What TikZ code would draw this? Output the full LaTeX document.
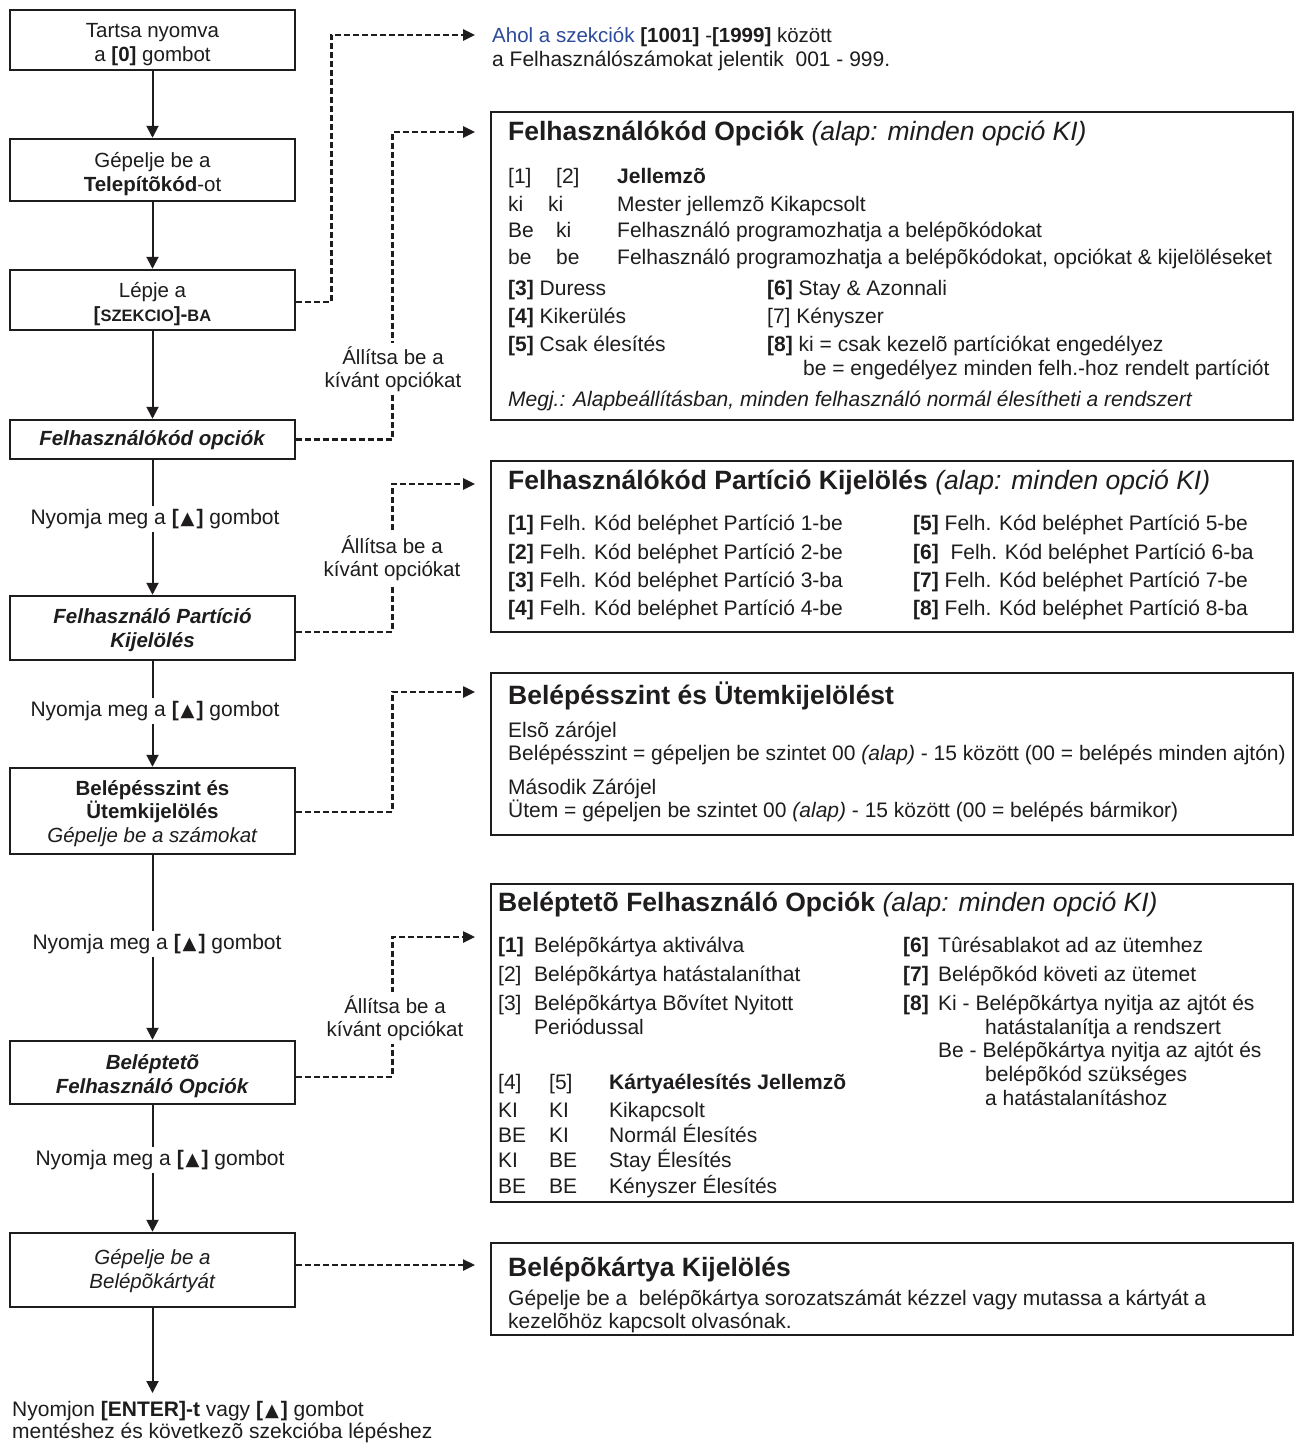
\documentclass[tikz,border=0pt]{standalone}
\usepackage{fontspec}
\setmainfont{Liberation Sans}
\newfontfamily\symf{DejaVu Sans}
\usetikzlibrary{arrows.meta,calc}
\definecolor{ink}{RGB}{30,28,28}
\definecolor{blu}{RGB}{45,75,155}
\newcommand\leftf{\fontsize{20.5}{23.5}\selectfont}
\newcommand\bodyf{\fontsize{21}{24}\selectfont}
\newcommand\titlef{\fontsize{26.5}{30}\selectfont}
\newcommand\smallbf{\fontsize{16.5}{18}\selectfont}
\newcommand\uptri{\textbf{[}\hspace{2pt}{\symf\fontsize{18}{18}\selectfont ▲}\hspace{2pt}\textbf{]}}
\begin{document}
\begin{tikzpicture}[x=1pt,y=-1pt,
  lbox/.style={draw=ink, line width=2.5pt, minimum width=285pt, align=center, font=\leftf, text=ink, inner sep=2pt, text depth=0pt},
  rbox/.style={draw=ink, line width=2.5pt, inner sep=0pt, minimum width=802pt},
  flow/.style={draw=ink, line width=2pt, -{Triangle[length=12pt,width=12pt]}},
  dsh/.style={draw=ink, line width=2.5pt, dash pattern=on 6pt off 3pt, -{Triangle[length=12pt,width=11pt]}},
  tx/.style={anchor=base west, inner sep=0pt, font=\bodyf, text=ink},
  ttl/.style={anchor=base west, inner sep=0pt, font=\titlef, text=ink},
  steplbl/.style={fill=white, inner sep=3pt, font=\fontsize{21}{23.5}\selectfont, text=ink, align=center},
  optlbl/.style={fill=white, inner sep=3pt, font=\leftf, text=ink, align=center}]
\useasboundingbox (0,0) rectangle (1294,1443);
\fill[white] (0,0) rectangle (1294,1443);

% left column boxes
\node[lbox, minimum height=60pt, text height=42pt] (b1) at (152.5,40) {Tartsa nyomva\\a \textbf{[0]} gombot};
\node[lbox, minimum height=62pt, text height=42pt] (b2) at (152.5,170) {Gépelje be a\\\textbf{Telepítõkód}-ot};
\node[lbox, minimum height=60pt, text height=42pt] (b3) at (152.5,300) {Lépje a\\\textbf{[{\smallbf SZEKCIO}]-{\smallbf BA}}};
\node[lbox, minimum height=39pt, text height=11pt] (b4) at (152.5,439.5) {\textbf{\textit{Felhasználókód opciók}}};
\node[lbox, minimum height=64pt, text height=38pt] (b5) at (152.5,628) {\textbf{\textit{Felhasználó Partíció}}\\\textbf{\textit{Kijelölés}}};
\node[lbox, minimum height=86pt, text height=62pt] (b6) at (152.5,811) {\textbf{Belépésszint és}\\\textbf{Ütemkijelölés}\\\textit{Gépelje be a számokat}};
\node[lbox, minimum height=63pt, text height=41pt] (b7) at (152.5,1072.5) {\textbf{\textit{Beléptetõ}}\\\textbf{\textit{Felhasználó Opciók}}};
\node[lbox, minimum height=74pt, text height=36pt] (b8) at (152.5,1270) {\textit{Gépelje be a}\\\textit{Belépõkártyát}};
\coordinate (endp) at (152.5,1393);

% solid flow
\draw[flow] (b1) -- (b2);
\draw[flow] (b2) -- (b3);
\draw[flow] (b3) -- (b4);
\draw[flow] (b4) -- (b5);
\draw[flow] (b5) -- (b6);
\draw[flow] (b6) -- (b7);
\draw[flow] (b7) -- (b8);
\draw[flow] (b8) -- (endp);

\node[steplbl] (l1) at (155,519) {Nyomja meg a \uptri{} gombot};
\node[steplbl] (l2) at (155,711) {Nyomja meg a \uptri{} gombot};
\node[steplbl] (l3) at (157,944) {Nyomja meg a \uptri{} gombot};
\node[steplbl] (l4) at (160,1160) {Nyomja meg a \uptri{} gombot};

\node[anchor=base west, inner sep=0pt, font=\bodyf, text=ink] (fin1) at (12,1416) {Nyomjon \textbf{[ENTER]-t} vagy \uptri{} gombot};
\node[anchor=base west, inner sep=0pt, font=\bodyf, text=ink] (fin2) at (12,1438.5) {mentéshez és következõ szekcióba lépéshez};

% right boxes
\node[rbox, minimum height=308pt] (B) at (892,266) {};
\node[rbox, minimum height=171pt] (C) at (892,546.5) {};
\node[rbox, minimum height=162pt] (D) at (892,754) {};
\node[rbox, minimum height=318pt] (E) at (892,1043) {};
\node[rbox, minimum height=92pt] (F) at (892,1289) {};

% arrow end points
\coordinate (e1) at (475,35);
\coordinate (e2) at (475,132);
\coordinate (e3) at (475,484);
\coordinate (e4) at (475,692);
\coordinate (e5) at (475,937);
\coordinate (e6) at (475,1265);

\draw[dsh] ([yshift=-2pt]b3.east) -- ++(35,0) |- (e1);
\draw[dsh] (b4.east) -- ++(96,0) |- (e2);
\draw[dsh] ([yshift=-4pt]b5.east) -- ++(96,0) |- (e3);
\draw[dsh] ([yshift=-1pt]b6.east) -- ++(96,0) |- (e4);
\draw[dsh] ([yshift=-4.5pt]b7.east) -- ++(96,0) |- (e5);
\draw[dsh] ([yshift=5pt]b8.east) -- (e6);

\node[optlbl] (s1) at (393,369) {Állítsa be a\\kívánt opciókat};
\node[optlbl] (s2) at (392,558) {Állítsa be a\\kívánt opciókat};
\node[optlbl] (s3) at (395,1018) {Állítsa be a\\kívánt opciókat};

% top note
\node[tx, font=\leftf] (a1) at (492,42.5) {\textcolor{blu}{Ahol a szekciók} \textbf{[1001]} -\textbf{[1999]} között};
\node[tx, font=\bodyf] (a2) at (492,66.5) {a Felhasználószámokat jelentik\ \ 001 - 999.};

% Box B
\node[ttl] (Bt) at (508,140.5) {\textbf{Felhasználókód Opciók} \textit{(alap: minden opció KI)}};
\node[tx] (B11) at (508,183.5) {[1]};
\node[tx] (B12) at (556,183.5) {[2]};
\node[tx] (B13) at (617,183.5) {\textbf{Jellemzõ}};
\node[tx] (B21) at (508,211.5) {ki};
\node[tx] (B22) at (548,211.5) {ki};
\node[tx] (B23) at (617,211.5) {Mester jellemzõ Kikapcsolt};
\node[tx] (B31) at (508,237.5) {Be};
\node[tx] (B32) at (556,237.5) {ki};
\node[tx] (B33) at (617,237.5) {Felhasználó programozhatja a belépõkódokat};
\node[tx] (B41) at (508,264.5) {be};
\node[tx] (B42) at (556,264.5) {be};
\node[tx] (B43) at (617,264.5) {Felhasználó programozhatja a belépõkódokat, opciókat \& kijelöléseket};
\node[tx] (B51) at (508,295.5) {\textbf{[3]} Duress};
\node[tx] (B52) at (767,295.5) {\textbf{[6]} Stay \& Azonnali};
\node[tx] (B61) at (508,323.5) {\textbf{[4]} Kikerülés};
\node[tx] (B62) at (767,323.5) {[7] Kényszer};
\node[tx] (B71) at (508,351.5) {\textbf{[5]} Csak élesítés};
\node[tx] (B72) at (767,351.5) {\textbf{[8]} ki = csak kezelõ partíciókat engedélyez};
\node[tx] (B82) at (803,375.5) {be = engedélyez minden felh.-hoz rendelt partíciót};
\node[tx] (B9) at (508,406.5) {\textit{Megj.: Alapbeállításban, minden felhasználó normál élesítheti a rendszert}};

% Box C
\node[ttl] (Ct) at (508,489.5) {\textbf{Felhasználókód Partíció Kijelölés} \textit{(alap: minden opció KI)}};
\node[tx] (C1) at (508,530.5) {\textbf{[1]} Felh. Kód beléphet Partíció 1-be};
\node[tx] (C2) at (508,559.5) {\textbf{[2]} Felh. Kód beléphet Partíció 2-be};
\node[tx] (C3) at (508,587.5) {\textbf{[3]} Felh. Kód beléphet Partíció 3-ba};
\node[tx] (C4) at (508,615.5) {\textbf{[4]} Felh. Kód beléphet Partíció 4-be};
\node[tx] (C5) at (913,530.5) {\textbf{[5]} Felh. Kód beléphet Partíció 5-be};
\node[tx] (C6) at (913,559.5) {\textbf{[6]}\ \ Felh. Kód beléphet Partíció 6-ba};
\node[tx] (C7) at (913,587.5) {\textbf{[7]} Felh. Kód beléphet Partíció 7-be};
\node[tx] (C8) at (913,615.5) {\textbf{[8]} Felh. Kód beléphet Partíció 8-ba};

% Box D
\node[ttl] (Dt) at (508,704.5) {\textbf{Belépésszint és Ütemkijelölést}};
\node[tx] (D1) at (508,737.5) {Elsõ zárójel};
\node[tx] (D2) at (508,760.5) {Belépésszint = gépeljen be szintet 00 \textit{(alap)} - 15 között (00 = belépés minden ajtón)};
\node[tx] (D3) at (508,794.5) {Második Zárójel};
\node[tx] (D4) at (508,817.5) {Ütem = gépeljen be szintet 00 \textit{(alap)} - 15 között (00 = belépés bármikor)};

% Box E
\node[ttl] (Et) at (498,911.5) {\textbf{Beléptetõ Felhasználó Opciók} \textit{(alap: minden opció KI)}};
\node[tx] (E1n) at (498,952.5) {\textbf{[1]}};
\node[tx] (E1) at (534,952.5) {Belépõkártya aktiválva};
\node[tx] (E2n) at (498,981.5) {[2]};
\node[tx] (E2) at (534,981.5) {Belépõkártya hatástalaníthat};
\node[tx] (E3n) at (498,1010.5) {[3]};
\node[tx] (E3) at (534,1010.5) {Belépõkártya Bõvítet Nyitott};
\node[tx] (E3b) at (534,1034.5) {Periódussal};
\node[tx] (E41) at (498,1089.5) {[4]};
\node[tx] (E42) at (549,1089.5) {[5]};
\node[tx] (E43) at (609,1089.5) {\textbf{Kártyaélesítés Jellemzõ}};
\node[tx] (E51) at (498,1117.5) {KI};
\node[tx] (E52) at (549,1117.5) {KI};
\node[tx] (E53) at (609,1117.5) {Kikapcsolt};
\node[tx] (E61) at (498,1142.5) {BE};
\node[tx] (E62) at (549,1142.5) {KI};
\node[tx] (E63) at (609,1142.5) {Normál Élesítés};
\node[tx] (E71) at (498,1167.5) {KI};
\node[tx] (E72) at (549,1167.5) {BE};
\node[tx] (E73) at (609,1167.5) {Stay Élesítés};
\node[tx] (E81) at (498,1193.5) {BE};
\node[tx] (E82) at (549,1193.5) {BE};
\node[tx] (E83) at (609,1193.5) {Kényszer Élesítés};
\node[tx] (E6n) at (903,952.5) {\textbf{[6]}};
\node[tx] (E6) at (938,952.5) {Tûrésablakot ad az ütemhez};
\node[tx] (E7n) at (903,981.5) {\textbf{[7]}};
\node[tx] (E7) at (938,981.5) {Belépõkód követi az ütemet};
\node[tx] (E8n) at (903,1010.5) {\textbf{[8]}};
\node[tx] (E8) at (938,1010.5) {Ki - Belépõkártya nyitja az ajtót és};
\node[tx] (E8b) at (985,1034.5) {hatástalanítja a rendszert};
\node[tx] (E8c) at (938,1057.5) {Be - Belépõkártya nyitja az ajtót és};
\node[tx] (E8d) at (985,1081.5) {belépõkód szükséges};
\node[tx] (E8e) at (985,1105.5) {a hatástalanításhoz};

% Box F
\node[ttl] (Ft) at (508,1276.5) {\textbf{Belépõkártya Kijelölés}};
\node[tx] (F1) at (508,1305.5) {Gépelje be a\ \ belépõkártya sorozatszámát kézzel vagy mutassa a kártyát a};
\node[tx] (F2) at (508,1328.5) {kezelõhöz kapcsolt olvasónak.};
\end{tikzpicture}
\end{document}
